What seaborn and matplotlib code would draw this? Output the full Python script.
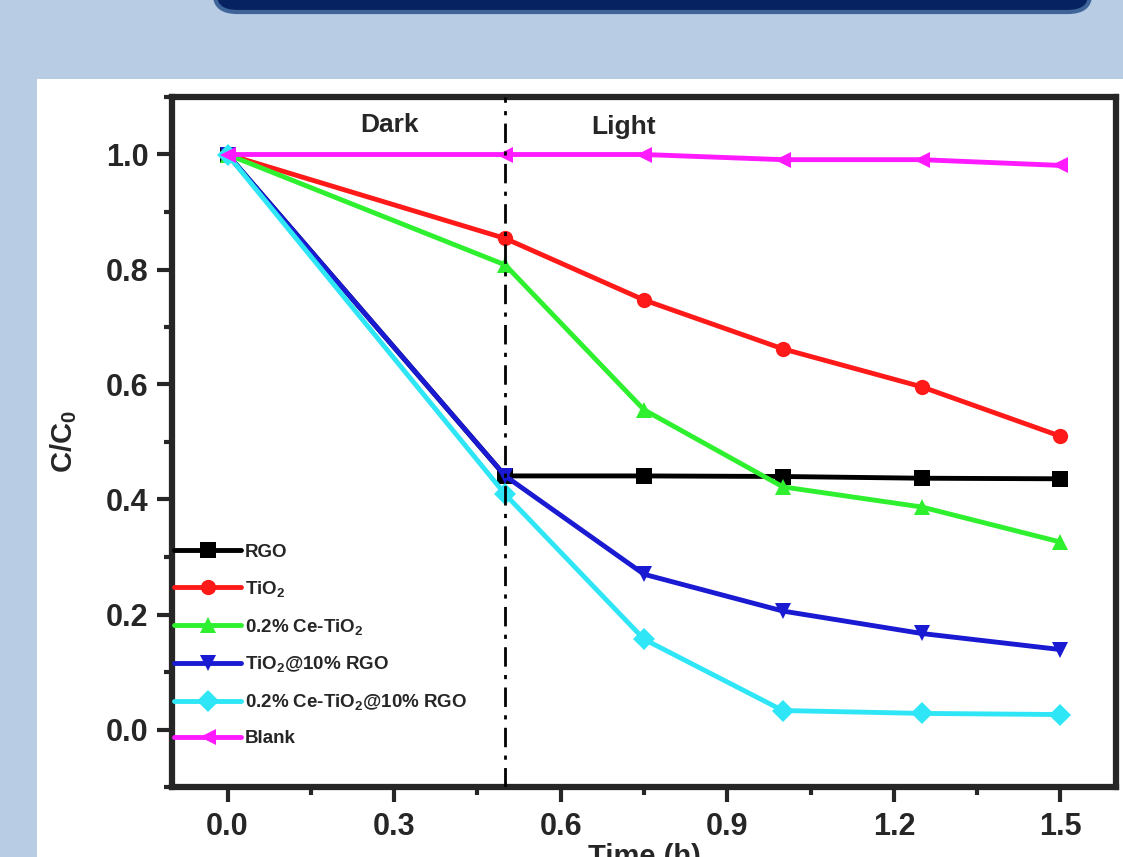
import matplotlib
matplotlib.use("Agg")
import matplotlib.pyplot as plt
from matplotlib.patches import Rectangle, FancyBboxPatch
from matplotlib.ticker import MultipleLocator
import seaborn as sns
import pandas as pd

# data
time_h = [0.0, 0.5, 0.75, 1.0, 1.25, 1.5]
rgo = [1.0, 0.441, 0.441, 0.440, 0.437, 0.436]
tio2 = [1.0, 0.854, 0.747, 0.662, 0.596, 0.510]
ce_tio2 = [1.0, 0.808, 0.556, 0.422, 0.387, 0.326]
tio2_rgo = [1.0, 0.441, 0.270, 0.206, 0.167, 0.139]
ce_tio2_rgo = [1.0, 0.409, 0.157, 0.033, 0.028, 0.026]
blank = [1.0, 1.0, 1.0, 0.991, 0.991, 0.981]

labels = ["RGO", "TiO$_2$", "0.2% Ce-TiO$_2$", "TiO$_2$@10% RGO",
          "0.2% Ce-TiO$_2$@10% RGO", "Blank"]
series = [rgo, tio2, ce_tio2, tio2_rgo, ce_tio2_rgo, blank]
colors = ["#000000", "#ff1a1a", "#2ef02e", "#1a1ad2", "#2ee6f5", "#ff1aff"]
markers = ["s", "o", "^", "v", "D", "<"]

df = pd.DataFrame({
    "Time": time_h * len(series),
    "C": [v for s in series for v in s],
    "Sample": [lab for lab, s in zip(labels, series) for _ in s],
})

sns.set_style("ticks")
plt.rcParams["font.family"] = ["Liberation Sans", "DejaVu Sans"]
plt.rcParams["font.weight"] = "bold"
plt.rcParams["mathtext.fontset"] = "custom"
plt.rcParams["mathtext.bf"] = "Liberation Sans:bold"
plt.rcParams["mathtext.rm"] = "Liberation Sans:bold"
plt.rcParams["mathtext.default"] = "bf"

fig = plt.figure(figsize=(11.23, 8.57), dpi=100, facecolor="#b8cce4")

# slide decorations: white panel and the navy title box cut at top
fig.patches.append(Rectangle((37 / 1123, 0), 1, (857 - 79) / 857,
                             transform=fig.transFigure, facecolor="white",
                             edgecolor="none", zorder=-2))
fig.patches.append(FancyBboxPatch((215 / 1123, 1 - 12 / 857), 875 / 1123, 0.1,
                                  boxstyle="round,pad=0,rounding_size=0.02",
                                  transform=fig.transFigure, facecolor="#062260",
                                  edgecolor="#3e6499", linewidth=3, zorder=-2))

ax = fig.add_axes([172 / 1123, (857 - 787) / 857, 944 / 1123, 690 / 857])
ax.set_zorder(2)

sns.lineplot(data=df, x="Time", y="C", hue="Sample", style="Sample",
             hue_order=labels, style_order=labels,
             palette=dict(zip(labels, colors)),
             markers=dict(zip(labels, markers)), dashes=False,
             linewidth=3.5, markersize=11, markeredgewidth=0,
             ax=ax)

ax.axvline(0.5, color="black", linestyle=(0, (7, 3, 1.5, 3)), linewidth=2, zorder=5)
ax.text(0.291, 1.052, "Dark", ha="center", va="center", fontsize=19, fontweight="bold")
ax.text(0.714, 1.047, "Light", ha="center", va="center", fontsize=19, fontweight="bold")

ax.set_xlim(-0.1, 1.6)
ax.set_ylim(-0.1, 1.1)
ax.xaxis.set_major_locator(MultipleLocator(0.3))
ax.xaxis.set_minor_locator(MultipleLocator(0.15))
ax.yaxis.set_major_locator(MultipleLocator(0.2))
ax.yaxis.set_minor_locator(MultipleLocator(0.1))
ax.tick_params(which="major", direction="out", length=11, width=3, labelsize=22)
ax.tick_params(which="minor", direction="out", length=6, width=3)
ax.tick_params(axis="x", which="major", pad=7)
ax.tick_params(axis="y", which="major", pad=6)
for lab in ax.get_xticklabels() + ax.get_yticklabels():
    lab.set_fontweight("bold")
for sp in ax.spines.values():
    sp.set_linewidth(4.5)
    sp.set_visible(True)

ax.set_xlabel("Time (h)", fontsize=21, fontweight="bold", labelpad=1)
ax.set_ylabel("C/C$_0$", fontsize=21, fontweight="bold", labelpad=19)

handles, _ = ax.get_legend_handles_labels()
ax.legend(handles, labels, loc="lower left", bbox_to_anchor=(0.0, 0.055),
          frameon=False, handlelength=3.6, handletextpad=0.2,
          labelspacing=0.95, borderaxespad=0, borderpad=0.1,
          prop={"weight": "bold", "size": 13.5})

fig.savefig("out.png", dpi=100, facecolor=fig.get_facecolor())
